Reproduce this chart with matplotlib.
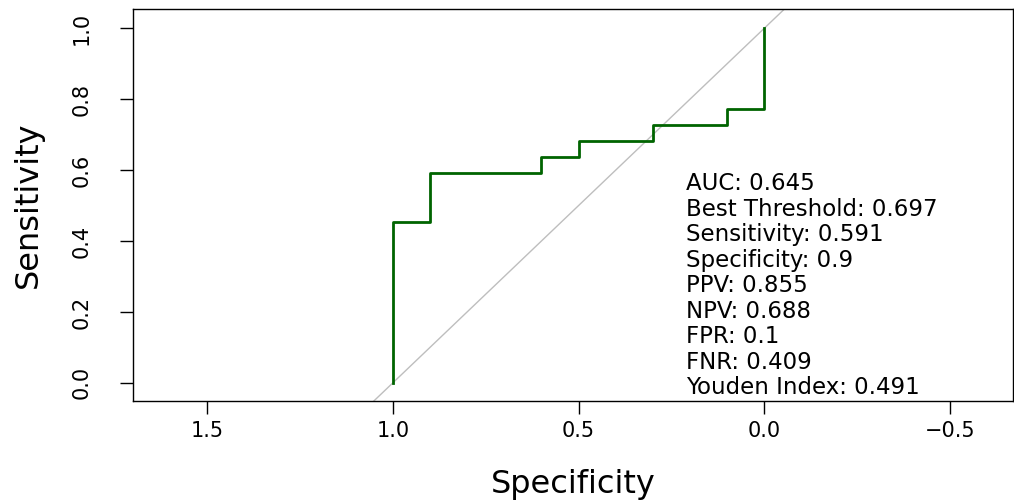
import matplotlib
matplotlib.use("Agg")
import matplotlib.pyplot as plt

# ROC curve steps (specificity, sensitivity)
spec = [1.0, 1.0, 0.9, 0.9, 0.6, 0.6, 0.5, 0.5, 0.3, 0.3, 0.1, 0.1, 0.0, 0.0]
sens = [0.0, 0.455, 0.455, 0.591, 0.591, 0.636, 0.636, 0.682, 0.682, 0.727, 0.727, 0.773, 0.773, 1.0]

stats = ["AUC: 0.645", "Best Threshold: 0.697", "Sensitivity: 0.591",
         "Specificity: 0.9", "PPV: 0.855", "NPV: 0.688", "FPR: 0.1",
         "FNR: 0.409", "Youden Index: 0.491"]

xticks = [1.5, 1.0, 0.5, 0.0, -0.5]
yticks = [0.0, 0.2, 0.4, 0.6, 0.8, 1.0]

fig = plt.figure(figsize=(10.14, 5.01), dpi=100)
ax = fig.add_axes([0.1312, 0.1996, 0.8678, 0.7824])

# diagonal reference
ax.plot([2, -1], [-1, 2], color="#BEBEBE", lw=1.0)
ax.plot(spec, sens, color="#006400", lw=2.0)

ax.set_xlim(1.699, -0.669)
ax.set_ylim(-0.051, 1.054)

ax.set_xticks(xticks)
ax.set_xticklabels([f"{t:.1f}".replace("-", "\u2212") for t in xticks], fontsize=15)
ax.set_yticks(yticks)
ax.set_yticklabels([f"{t:.1f}" for t in yticks], fontsize=15, rotation=90, va="center")
ax.tick_params(direction="out", length=9.5, width=1)
ax.tick_params(axis="x", pad=5)
ax.tick_params(axis="y", pad=20)

for s in ax.spines.values():
    s.set_linewidth(1.0)

ax.set_xlabel("Specificity", fontsize=23, labelpad=20)
ax.set_ylabel("Sensitivity", fontsize=23, labelpad=20)

y0 = 0.561
step = 0.0718
for i, line in enumerate(stats):
    ax.text(0.21, y0 - i * step, line, fontsize=16.5, ha="left", va="center")

fig.savefig("out.png", dpi=100)
